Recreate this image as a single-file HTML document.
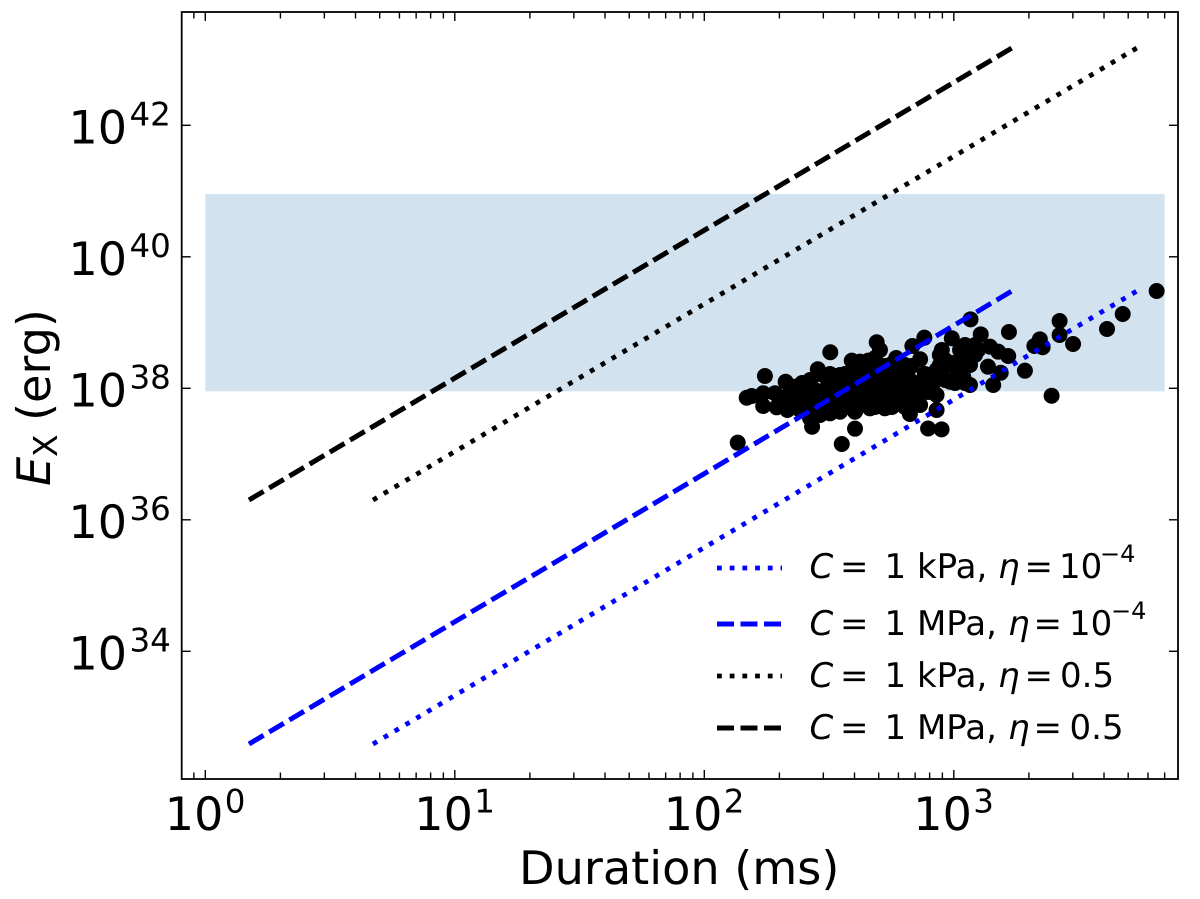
<!DOCTYPE html>
<html lang="en">
<head>
<meta charset="utf-8">
<title>Duration vs X-ray energy</title>
<style>
html,body{margin:0;padding:0;background:#fff;}
svg{display:block;}
text{font-family:"DejaVu Sans","Liberation Sans",sans-serif;fill:#000;text-rendering:geometricPrecision;}
.it{font-style:italic;}
</style>
</head>
<body>
<svg id="chart" xmlns="http://www.w3.org/2000/svg" width="1200" height="899" viewBox="0 0 1200 899">
  <g id="band-layer"></g>
  <g id="scatter-layer"></g>
  <g id="line-layer"></g>
  <rect x="181.7" y="12" width="996.3" height="767" fill="none" stroke="#000" stroke-width="1.8"/>
  <g id="tick-layer"></g>
  <text x="519" y="884" font-size="46.2">Duration (ms)</text>
  <g transform="translate(50,0) rotate(-90)">
    <text x="-486" y="0" font-size="46.2" class="it">E</text>
    <text x="-457" y="7" font-size="33">X</text>
    <text x="-421" y="0" font-size="46.2">(erg)</text>
  </g>
  <g>
    <line x1="717" y1="568" x2="782" y2="568" stroke="#0000ff" stroke-width="4.8" stroke-dasharray="4.8 7.9"/>
    <g font-size="34">
      <text x="809.5" y="578" class="it">C</text><text x="840" y="578">=</text><text x="884.5" y="578">1 kPa,</text><text x="998" y="578" class="it">η</text><text x="1024.5" y="578">=</text><text x="1059" y="578">10</text><text x="1100" y="562" font-size="24">−4</text>
    </g>
    <line x1="717" y1="624" x2="782" y2="624" stroke="#0000ff" stroke-width="5" stroke-dasharray="17 6.5"/>
    <g font-size="34">
      <text x="809.5" y="635" class="it">C</text><text x="840" y="635">=</text><text x="884.5" y="635">1 MPa,</text><text x="1008" y="635" class="it">η</text><text x="1033.5" y="635">=</text><text x="1069" y="635">10</text><text x="1111" y="619" font-size="24">−4</text>
    </g>
    <line x1="717" y1="676" x2="782" y2="676" stroke="#000" stroke-width="4.8" stroke-dasharray="4.8 7.9"/>
    <g font-size="34">
      <text x="809.5" y="687" class="it">C</text><text x="840" y="687">=</text><text x="884.5" y="687">1 kPa,</text><text x="998" y="687" class="it">η</text><text x="1024.5" y="687">=</text><text x="1060" y="687">0.5</text>
    </g>
    <line x1="717" y1="728" x2="782" y2="728" stroke="#000" stroke-width="5" stroke-dasharray="17 6.5"/>
    <g font-size="34">
      <text x="809.5" y="739" class="it">C</text><text x="840" y="739">=</text><text x="884.5" y="739">1 MPa,</text><text x="1008" y="739" class="it">η</text><text x="1033.5" y="739">=</text><text x="1069.5" y="739">0.5</text>
    </g>
  </g>
</svg>
<script>
const xTickExponents = [0, 1, 2, 3];
const yTickExponents = [34, 36, 38, 40, 42];
const xMinorMantissas = [2, 3, 4, 5, 6, 7, 8, 9];
const xMinorExtra = [0.9];

const bandDuration = [1, 7000];
const bandEnergy = [9e37, 9e40];

const lineNames = ['1kpa-eta-small', '1mpa-eta-small', '1kpa-eta-half', '1mpa-eta-half'];
const lineColors = ['#0000ff', '#0000ff', '#000000', '#000000'];
const lineStyles = ['dotted', 'dashed', 'dotted', 'dashed'];
const lineLogDuration = [[0.672, 3.734], [0.175, 3.233], [0.672, 3.734], [0.175, 3.233]];
const lineLogEnergy = [[32.590, 39.480], [32.590, 39.480], [36.301, 43.176], [36.301, 43.176]];

const burstLogDuration = [
2.134,2.551,2.604,2.432,2.505,2.243,2.170,2.190,2.236,2.283,2.236,2.290,2.333,2.326,2.364,2.455,2.424,2.497,2.591,2.657,
2.624,2.691,2.704,2.577,2.834,2.882,2.865,2.952,2.992,2.965,2.931,2.931,2.824,2.865,2.791,2.897,2.951,2.724,2.664,2.604,
2.544,2.504,2.424,2.384,3.067,3.108,3.145,3.137,3.052,3.158,3.065,2.985,3.813,3.677,3.614,3.424,3.424,3.478,3.345,3.323,
3.356,3.221,3.285,3.392,3.218,3.178,3.188,3.065,3.038,3.025,2.997,2.931,
2.604,2.664,2.724,2.784,2.824,2.904,2.384,2.444,2.504,2.564,2.624,2.684,2.744,2.804,2.864,
2.404,2.464,2.524,2.584,2.644,2.704,2.764,2.824,2.744,2.804,2.944,2.769,2.644,2.704,2.764,2.544,2.684,3.025,3.085,2.944,
2.644,2.684,2.724,2.776,2.832,2.964,
2.464,2.504,2.564,2.632,2.696,2.752,2.804,2.884,2.952,3.025,
2.392,2.536,2.616,2.672,2.736,2.792,2.856,2.917,3.005,3.045,
2.344,2.416,2.472,2.536,2.592,2.656,2.712,2.776,2.832,2.897,
2.312,2.364,2.432,2.496,2.556,2.616,2.676,2.736,2.796,2.856,
2.364,2.432,2.488,2.552,2.616,2.684,2.752,2.804,
2.464,2.965,3.045,3.085,3.065,3.016,3.097
];
const burstLogEnergy = [
37.173,37.153,37.386,37.416,38.548,38.187,37.857,37.883,37.924,37.924,37.731,37.711,37.670,38.100,38.024,38.289,38.126,38.081,38.420,38.420,
38.405,38.700,38.583,38.100,38.643,38.770,38.441,38.583,38.761,38.126,37.898,37.670,37.609,37.746,37.822,37.389,37.376,37.696,37.696,37.644,
37.644,37.620,37.544,37.670,39.049,38.821,38.633,38.329,38.557,38.050,38.050,38.100,39.480,39.130,38.902,39.024,38.811,38.674,38.745,38.643,
38.624,38.856,38.268,37.887,38.491,38.557,38.237,38.481,38.176,38.583,38.385,38.278,
38.202,38.202,38.202,38.202,38.126,38.202,37.974,37.974,37.974,37.974,37.974,37.974,37.974,37.974,37.974,
37.776,37.776,37.776,37.776,37.776,37.776,37.776,37.776,38.354,38.354,38.354,38.460,38.065,38.065,38.065,38.202,38.460,38.354,38.506,38.506,
38.339,38.339,38.339,38.339,38.339,38.339,
38.218,38.218,38.218,38.218,38.218,38.218,38.218,38.218,38.218,38.218,
38.081,38.081,38.081,38.081,38.081,38.081,38.081,38.081,38.081,38.081,
37.944,37.944,37.944,37.944,37.944,37.944,37.944,37.944,37.944,37.944,
37.853,37.853,37.853,37.853,37.853,37.853,37.853,37.853,37.853,37.853,
37.716,37.716,37.716,37.716,37.716,37.716,37.716,37.716,
37.594,38.431,38.659,38.659,38.354,38.248,38.583
];

const SVG_NS = 'http://www.w3.org/2000/svg';
function xScale(logD) { return 205.3 + logD * 249.5; }
function yScale(logE) { return 125.3 + (42 - logE) * 65.75; }
function make(tag, attrs) {
  const el = document.createElementNS(SVG_NS, tag);
  for (const k in attrs) el.setAttribute(k, attrs[k]);
  return el;
}

const bandLayer = document.getElementById('band-layer');
const band = make('rect', {
  x: xScale(Math.log10(bandDuration[0])),
  y: yScale(Math.log10(bandEnergy[1])),
  width: xScale(Math.log10(bandDuration[1])) - xScale(Math.log10(bandDuration[0])),
  height: yScale(Math.log10(bandEnergy[0])) - yScale(Math.log10(bandEnergy[1])),
  fill: '#d2e3ef'
});


bandLayer.appendChild(band);

const scatterLayer = document.getElementById('scatter-layer');
burstLogDuration.forEach(function (d, i) {
  const c = make('circle', { cx: xScale(d), cy: yScale(burstLogEnergy[i]), r: 8, fill: '#000' });
  
  
  scatterLayer.appendChild(c);
});

const lineLayer = document.getElementById('line-layer');
lineNames.forEach(function (name, i) {
  const l = make('line', {
    x1: xScale(lineLogDuration[i][0]), y1: yScale(lineLogEnergy[i][0]),
    x2: xScale(lineLogDuration[i][1]), y2: yScale(lineLogEnergy[i][1]),
    stroke: lineColors[i],
    'stroke-width': lineStyles[i] === 'dashed' ? 5 : 4.8,
    'stroke-dasharray': lineStyles[i] === 'dashed' ? '17 6.5' : '4.8 7.81'
  });
  
  
  lineLayer.appendChild(l);
});

const tickLayer = document.getElementById('tick-layer');
const TOP = 12, BOTTOM = 779, LEFT = 181.7, RIGHT = 1178;
function xTick(x, len, name) {
  [[BOTTOM, BOTTOM - len], [TOP, TOP + len]].forEach(function (p) {
    const t = make('line', { x1: x, x2: x, y1: p[0], y2: p[1], stroke: '#000', 'stroke-width': 1.4 });
    
    
    tickLayer.appendChild(t);
  });
}
function addLabel(x, y, size, content, name) {
  const t = make('text', { x: x, y: y, 'font-size': size });
  t.textContent = content;
  
  
  tickLayer.appendChild(t);
}
xTickExponents.forEach(function (e) {
  const x = xScale(e);
  xTick(x, 9, 'x-major-tick');
  addLabel(x - 40.5, 830, 46, '10', 'x-tick-label');
  addLabel(x + 19.5, 812.5, 32.5, String(e), 'x-tick-exponent');
  xMinorMantissas.forEach(function (m) {
    const mx = xScale(e + Math.log10(m));
    if (mx < RIGHT - 1) xTick(mx, 6.5, 'x-minor-tick');
  });
});
xMinorExtra.forEach(function (v) { xTick(xScale(Math.log10(v)), 6.5, 'x-minor-tick'); });
yTickExponents.forEach(function (e) {
  const y = yScale(e);
  [[LEFT, LEFT + 9], [RIGHT, RIGHT - 9]].forEach(function (p) {
    const t = make('line', { x1: p[0], x2: p[1], y1: y, y2: y, stroke: '#000', 'stroke-width': 1.4 });
    
    
    tickLayer.appendChild(t);
  });
  addLabel(68.5, y + 18, 46, '10', 'y-tick-label');
  addLabel(129.5, y + 0.2, 32.5, String(e), 'y-tick-exponent');
});
</script>
</body>
</html>
